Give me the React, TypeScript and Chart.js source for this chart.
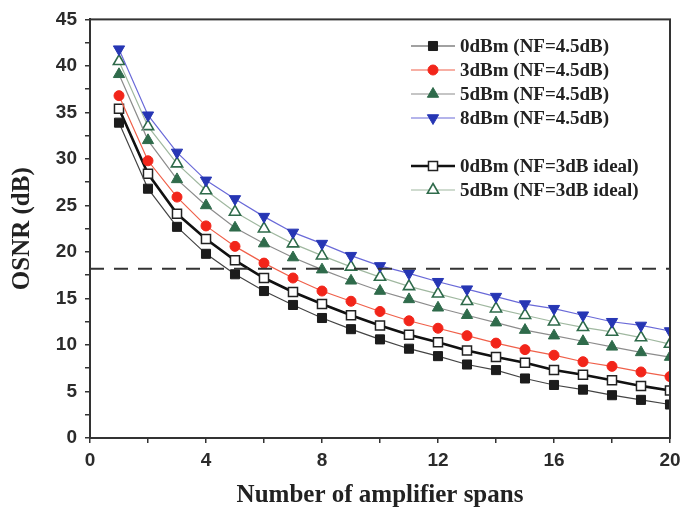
import React, { useEffect, useRef } from 'react';
import { Chart, registerables } from 'chart.js';

Chart.register(...registerables);

// ---- data ----
const spans = [1, 2, 3, 4, 5, 6, 7, 8, 9, 10, 11, 12, 13, 14, 15, 16, 17, 18, 19, 20];
const osnr0dBmNF45 = [33.9, 26.8, 22.7, 19.8, 17.6, 15.8, 14.3, 12.9, 11.7, 10.6, 9.6, 8.8, 7.9, 7.3, 6.4, 5.7, 5.2, 4.6, 4.1, 3.6];
const osnr3dBmNF45 = [36.8, 29.8, 25.9, 22.8, 20.6, 18.8, 17.2, 15.8, 14.7, 13.6, 12.6, 11.8, 11.0, 10.2, 9.5, 8.9, 8.2, 7.7, 7.1, 6.6];
const osnr5dBmNF45 = [39.1, 32.0, 27.8, 25.0, 22.6, 20.9, 19.4, 18.1, 16.9, 15.8, 14.9, 14.0, 13.2, 12.4, 11.6, 11.0, 10.4, 9.8, 9.2, 8.7];
const osnr8dBmNF45 = [41.8, 34.7, 30.7, 27.7, 25.7, 23.8, 22.1, 20.9, 19.6, 18.5, 17.7, 16.8, 16.0, 15.2, 14.4, 13.9, 13.2, 12.5, 12.1, 11.5];
const osnr0dBmNF3 = [35.4, 28.4, 24.1, 21.4, 19.1, 17.2, 15.7, 14.4, 13.2, 12.1, 11.1, 10.3, 9.4, 8.7, 8.1, 7.3, 6.8, 6.2, 5.6, 5.1];
const osnr5dBmNF3 = [40.5, 33.5, 29.5, 26.6, 24.3, 22.5, 20.9, 19.6, 18.4, 17.3, 16.3, 15.5, 14.7, 13.9, 13.2, 12.5, 11.9, 11.4, 10.8, 10.1];
const thresholdOSNR = 18.2;
const xRange = [0, 20];
const yRange = [0, 45];

const seriesLabels = [
  '0dBm (NF=4.5dB)',
  '3dBm (NF=4.5dB)',
  '5dBm (NF=4.5dB)',
  '8dBm (NF=4.5dB)',
  '0dBm (NF=3dB ideal)',
  '5dBm (NF=3dB ideal)',
];

const toXY = (vals: number[]) => vals.map((v, i) => ({ x: spans[i], y: v }));

function drawMarker(
  ctx: CanvasRenderingContext2D,
  style: string,
  x: number,
  y: number,
  r: number,
  rotation: number,
  fill: string,
  stroke: string,
  lw: number
) {
  ctx.save();
  ctx.beginPath();
  if (style === 'circle') {
    ctx.arc(x, y, r, 0, Math.PI * 2);
  } else if (style === 'rect') {
    const s = Math.SQRT1_2 * r;
    ctx.rect(x - s, y - s, 2 * s, 2 * s);
  } else {
    let rad = (rotation * Math.PI) / 180;
    ctx.moveTo(x + Math.sin(rad) * r, y - Math.cos(rad) * r);
    rad += (2 * Math.PI) / 3;
    ctx.lineTo(x + Math.sin(rad) * r, y - Math.cos(rad) * r);
    rad += (2 * Math.PI) / 3;
    ctx.lineTo(x + Math.sin(rad) * r, y - Math.cos(rad) * r);
    ctx.closePath();
  }
  ctx.fillStyle = fill;
  ctx.fill();
  ctx.lineWidth = lw;
  ctx.strokeStyle = stroke;
  ctx.stroke();
  ctx.restore();
}

const framePlugin = {
  id: 'frameAndLegend',
  afterDraw(chart: any) {
    const ctx: CanvasRenderingContext2D = chart.ctx;
    const a = chart.chartArea;
    ctx.save();
    ctx.strokeStyle = '#333';
    ctx.lineWidth = 2;
    ctx.strokeRect(a.left, a.top, a.right - a.left, a.bottom - a.top);
    ctx.restore();

    // legend
    const rows = [46, 70, 94, 118, 166, 190];
    const lineX0 = 411;
    const lineX1 = 455;
    const mx = 433;
    const tx = 460;
    let k = 0;
    chart.data.datasets.forEach((ds: any) => {
      if (ds.isRef) return;
      const y = rows[k++];
      ctx.save();
      ctx.strokeStyle = ds.borderColor;
      ctx.lineWidth = ds.borderWidth;
      ctx.beginPath();
      ctx.moveTo(lineX0, y);
      ctx.lineTo(lineX1, y);
      ctx.stroke();
      ctx.restore();
      drawMarker(ctx, ds.pointStyle, mx, y, ds.pointRadius, ds.pointRotation || 0, ds.pointBackgroundColor, ds.pointBorderColor, ds.pointBorderWidth);
      ctx.save();
      ctx.fillStyle = '#222';
      ctx.font = 'bold 19px "Liberation Serif", serif';
      ctx.textBaseline = 'middle';
      ctx.textAlign = 'left';
      ctx.fillText(ds.label, tx, y + 1);
      ctx.restore();
    });
  },
};

export default function App() {
  const ref = useRef<HTMLCanvasElement>(null);

  useEffect(() => {
    document.body.style.margin = '0';
    if (!ref.current) return;
    const mk = (
      label: string,
      vals: number[],
      line: string,
      lw: number,
      style: string,
      r: number,
      fill: string,
      stroke: string,
      pbw: number,
      rot = 0
    ) => ({
      label,
      data: toXY(vals),
      borderColor: line,
      borderWidth: lw,
      pointStyle: style,
      pointRadius: r,
      pointRotation: rot,
      pointBackgroundColor: fill,
      pointBorderColor: stroke,
      pointBorderWidth: pbw,
      tension: 0,
      clip: 1,
      isRef: false,
    });

    const chart = new Chart(ref.current, {
      type: 'line',
      data: {
        datasets: [
          {
            label: 'threshold',
            data: [
              { x: xRange[0], y: thresholdOSNR },
              { x: xRange[1], y: thresholdOSNR },
            ],
            borderColor: '#333',
            borderWidth: 2,
            borderDash: [14, 10],
            pointRadius: 0,
            clip: 1,
            isRef: true,
          } as any,
          mk(seriesLabels[0], osnr0dBmNF45, '#444', 1.2, 'rect', 6.4, '#1c1c1c', '#1c1c1c', 1),
          mk(seriesLabels[1], osnr3dBmNF45, '#f0604a', 1.2, 'circle', 5, '#f2251a', '#f2251a', 1),
          mk(seriesLabels[2], osnr5dBmNF45, '#8c8c8c', 1.2, 'triangle', 6.5, '#2f6b4b', '#2f6b4b', 1),
          mk(seriesLabels[3], osnr8dBmNF45, '#6a6ad8', 1.2, 'triangle', 6.5, '#2636b4', '#2636b4', 1, 180),
          mk(seriesLabels[4], osnr0dBmNF3, '#111', 2.6, 'rect', 6.4, '#ffffff', '#222', 1.5),
          mk(seriesLabels[5], osnr5dBmNF3, '#a0b8a0', 1.2, 'triangle', 6.5, '#ffffff', '#2f6b4b', 1.6),
        ],
      },
      options: {
        responsive: false,
        animation: false,
        devicePixelRatio: 1,
        layout: { padding: { top: 19, right: 12, left: 0, bottom: 0 } },
        plugins: {
          legend: { display: false },
          tooltip: { enabled: false },
        },
        scales: {
          x: {
            type: 'linear',
            min: xRange[0],
            max: xRange[1],
            afterFit: (s: any) => {
              s.height = 78;
              s.paddingRight = 0;
              s.paddingLeft = 0;
            },
            ticks: {
              stepSize: 2,
              autoSkip: false,
              maxRotation: 0,
              padding: 6,
              color: '#2b2b2b',
              font: { family: '"Liberation Sans", Arial, sans-serif', size: 19, weight: 'bold' },
              callback: (v: any) => (Number(v) % 4 === 0 ? String(v) : ''),
            },
            grid: { drawOnChartArea: false, drawTicks: true, tickLength: 5, color: '#333', lineWidth: 1.5 },
            border: { display: true, color: '#333', width: 2 },
            title: {
              display: true,
              text: 'Number of amplifier spans',
              color: '#222',
              font: { family: '"Liberation Serif", serif', size: 25, weight: 'bold' },
              padding: { top: 4, bottom: 5 },
            },
          },
          y: {
            type: 'linear',
            min: yRange[0],
            max: yRange[1],
            afterFit: (s: any) => {
              s.width = 90;
            },
            ticks: {
              stepSize: 2.5,
              autoSkip: false,
              padding: 8,
              color: '#2b2b2b',
              font: { family: '"Liberation Sans", Arial, sans-serif', size: 19, weight: 'bold' },
              callback: (v: any) => (Number(v) % 5 === 0 ? String(v) : ''),
            },
            grid: { drawOnChartArea: false, drawTicks: true, tickLength: 5, color: '#333', lineWidth: 1.5 },
            border: { display: true, color: '#333', width: 2 },
            title: {
              display: true,
              text: 'OSNR (dB)',
              color: '#222',
              font: { family: '"Liberation Serif", serif', size: 25, weight: 'bold' },
              padding: { top: 8, bottom: 4 },
            },
          },
        },
      } as any,
      plugins: [framePlugin],
    });
    return () => chart.destroy();
  }, []);

  return (
    <div style={{ width: 682, height: 516, background: '#fff' }}>
      <canvas ref={ref} width={682} height={516} style={{ display: 'block' }} />
    </div>
  );
}
